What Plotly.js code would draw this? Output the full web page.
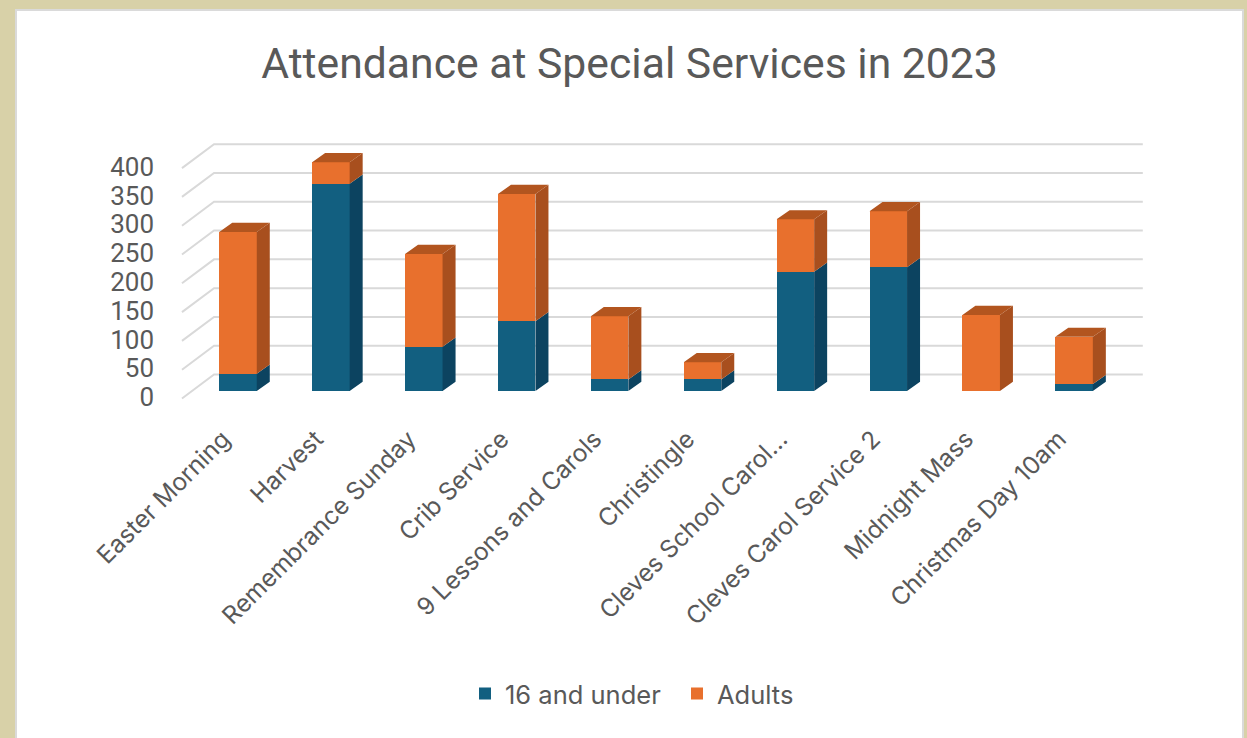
<!DOCTYPE html>
<html>
<head>
<meta charset="utf-8">
<script src="https://cdn.plot.ly/plotly-3.0.1.min.js"></script>
<style>
html,body{margin:0;padding:0;width:1247px;height:738px;overflow:hidden;background:#D8D1A8;}
#frame{position:absolute;left:15px;top:9px;width:1229px;height:729px;box-sizing:border-box;border:2px solid #DADADA;border-bottom:none;background:#fff;}
#chart{position:absolute;left:17px;top:11px;width:1225px;height:727px;}
</style>
</head>
<body>
<div id="frame"></div>
<div id="chart"></div>
<script>
const categories = ["Easter Morning","Harvest","Remembrance Sunday","Crib Service","9 Lessons and Carols","Christingle","Cleves School Carol...","Cleves Carol Service 2","Midnight Mass","Christmas Day 10am"];
const under16 = [30,360,77,121,20,20,207,215,0,12];
const adults = [246,37,161,221,110,30,91,97,132,82];
const yTicks = [0,50,100,150,200,250,300,350,400];

const positions = categories.map((_, i) => i);
const barWidth = 0.404;
// depth effect, in axis units
const depthX = 0.14, depthY = 16;
const backX = -0.258, backXEnd = 9.74, backY = 28.6;
const frontX = -0.603, frontY = -13;

function sidePolys(bottoms, tops){
  const xs = [], ys = [];
  positions.forEach(i => {
    if (tops[i] <= bottoms[i]) return;
    const r = i + barWidth/2;
    xs.push(r, r + depthX, r + depthX, r, r, null);
    ys.push(bottoms[i], bottoms[i] + depthY, tops[i] + depthY, tops[i], bottoms[i], null);
  });
  return {x: xs, y: ys};
}
function topPolys(tops){
  const xs = [], ys = [];
  positions.forEach(i => {
    const l = i - barWidth/2, r = i + barWidth/2;
    xs.push(l, r, r + depthX, l + depthX, l, null);
    ys.push(tops[i], tops[i], tops[i] + depthY, tops[i] + depthY, tops[i], null);
  });
  return {x: xs, y: ys};
}
const totals = positions.map(i => under16[i] + adults[i]);
const zeros = positions.map(() => 0);
function poly(p, color){
  return {type:'scatter', mode:'lines', x:p.x, y:p.y, fill:'toself', fillcolor:color,
    line:{width:0, color:color}, hoverinfo:'skip', showlegend:false};
}
const traces = [
  {type:'bar', name:'16 and under', x:positions, y:under16, width:barWidth, marker:{color:'#125F80'}},
  {type:'bar', name:'Adults', x:positions, y:adults, width:barWidth, marker:{color:'#E8702D'}},
  poly(sidePolys(zeros, under16), '#0C4360'),
  poly(sidePolys(under16, totals), '#A84F1E'),
  poly(topPolys(totals), '#B2551F')
];
const gridShapes = yTicks.map(v => ({
  type:'path', layer:'below', xref:'x', yref:'y',
  path:`M ${frontX} ${v+frontY} L ${backX} ${v+backY} L ${backXEnd} ${v+backY}`,
  line:{color:'#D9D9D9', width:2}
}));
const grey = '#595959';
const layout = {
  width:1225, height:727,
  paper_bgcolor:'#fff', plot_bgcolor:'rgba(0,0,0,0)',
  margin:{l:153, r:82, t:109, b:338},
  barmode:'stack',
  font:{family:'Roboto, sans-serif', color:grey},
  title:{text:'Attendance at Special Services in 2023',
    font:{family:'Roboto, sans-serif', size:42.7, color:grey},
    x:0.5, xanchor:'center', xref:'container',
    y:1-(63-11)/727, yanchor:'middle', yref:'container'},
  xaxis:{range:[-0.732, 9.925], tickmode:'array', tickvals:positions, ticktext:categories,
    tickangle:-45, showgrid:false, zeroline:false, showline:false, ticks:'',
    ticklabelshift:-15, ticklabelstandoff:19,
    tickfont:{family:'Inter, sans-serif', size:24.5, color:grey}, automargin:false},
  yaxis:{range:[-15.6, 470.5], tickmode:'array', tickvals:yTicks, showgrid:false, zeroline:false,
    showline:false, ticks:'', ticklabelstandoff:15, ticklabelshift:6, tickfont:{size:26, color:grey}, automargin:false},
  legend:{orientation:'h', x:448/1225, xanchor:'left', xref:'container',
    entrywidth:167, entrywidthmode:'pixels',
    y:1-(694-11)/727, yanchor:'middle', yref:'container', font:{family:'Inter, sans-serif', size:25.5, color:grey}, traceorder:'normal'},
  shapes:gridShapes,
  showlegend:true
};
Plotly.newPlot('chart', traces, layout, {displayModeBar:false, staticPlot:true});
</script>
</body>
</html>
